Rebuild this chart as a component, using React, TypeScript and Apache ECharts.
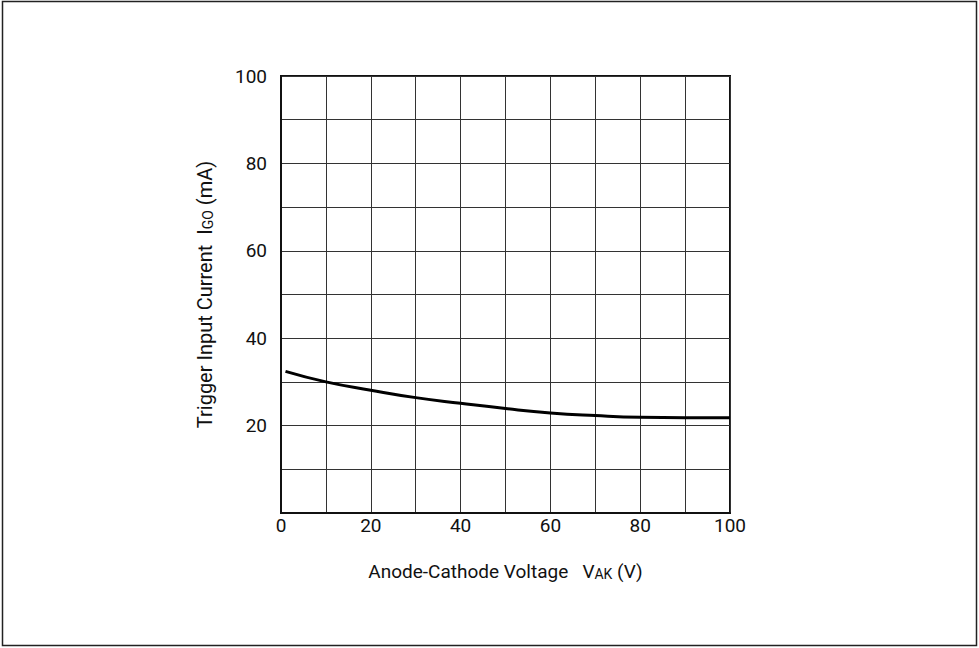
import React, { useEffect, useRef } from "react";
import * as echarts from "echarts";

const voltage = [1, 10, 20, 30, 40, 50, 60, 70, 80, 90, 100];
const current = [32.4, 30.0, 28.1, 26.4, 25.1, 23.9, 22.9, 22.3, 21.9, 21.8, 21.8];
const xLabels = [0, 20, 40, 60, 80, 100];
const yLabels = [20, 40, 60, 80, 100];

const FONT = "Roboto, 'Liberation Sans', sans-serif";

export default function App() {
  const ref = useRef<HTMLDivElement>(null);
  useEffect(() => {
    if (!ref.current) return;
    const chart = echarts.init(ref.current, null, { renderer: "svg" });
    chart.setOption({
      animation: false,
      backgroundColor: "#fff",
      graphic: [
        {
          type: "rect",
          shape: { x: 2.5, y: 1.5, width: 974, height: 644 },
          style: { fill: "none", stroke: "#222", lineWidth: 1.5 },
          silent: true,
        },
      ],
      grid: {
        left: 281,
        top: 76,
        width: 449,
        height: 437,
        show: true,
        borderColor: "#111",
        borderWidth: 2,
        backgroundColor: "transparent",
      },
      xAxis: {
        type: "value",
        min: 0,
        max: 100,
        interval: 10,
        name: "Anode-Cathode Voltage   V{sub|AK} (V)",
        nameLocation: "middle",
        nameGap: 48,
        nameTextStyle: {
          fontFamily: FONT,
          fontSize: 19,
          color: "#111",
          rich: {
            sub: { fontFamily: FONT, fontSize: 14, color: "#111", verticalAlign: "bottom", padding: [6, 0, 0, 0] },
          },
        },
        axisLine: { show: true, lineStyle: { color: "#111", width: 2 } },
        axisTick: { show: false },
        axisLabel: {
          margin: 3,
          fontFamily: FONT,
          fontSize: 19,
          color: "#111",
          formatter: (v: number) => (xLabels.includes(v) ? String(v) : ""),
        },
        splitLine: { show: true, lineStyle: { color: "#333", width: 1 } },
      },
      yAxis: {
        type: "value",
        min: 0,
        max: 100,
        interval: 10,
        name: "Trigger Input Current  I{sub|GO} (mA)",
        nameLocation: "middle",
        nameGap: 66,
        nameTextStyle: {
          fontFamily: FONT,
          fontSize: 20,
          color: "#111",
          rich: {
            sub: { fontFamily: FONT, fontSize: 14, color: "#111", verticalAlign: "bottom", padding: [6, 0, 0, 0] },
          },
        },
        axisLine: { show: true, lineStyle: { color: "#111", width: 2 } },
        axisTick: { show: false },
        axisLabel: {
          margin: 14,
          fontFamily: FONT,
          fontSize: 19,
          color: "#111",
          formatter: (v: number) => (yLabels.includes(v) ? String(v) : ""),
        },
        splitLine: { show: true, lineStyle: { color: "#333", width: 1 } },
      },
      series: [
        {
          type: "line",
          data: voltage.map((v, i) => [v, current[i]]),
          smooth: true,
          showSymbol: false,
          lineStyle: { color: "#000", width: 3 },
        },
      ],
    });
    return () => chart.dispose();
  }, []);
  return (
    <div
      ref={ref}
      style={{ position: "absolute", left: 0, top: 0, width: 979, height: 648 }}
    />
  );
}
